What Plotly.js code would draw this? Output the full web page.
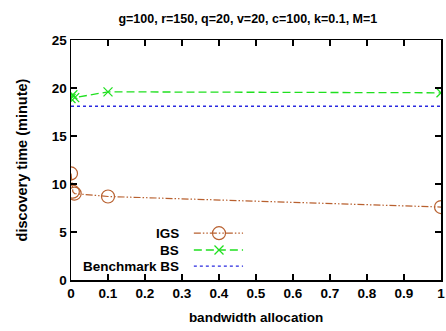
<!DOCTYPE html>
<html><head><meta charset="utf-8">
<script src="https://cdn.plot.ly/plotly-3.0.1.min.js"></script>
<style>html,body{margin:0;padding:0;background:#fff}</style>
</head><body><div id="chart" style="width:446px;height:331px"></div>
<script>
const igsX = [0, 0.005, 0.01, 0.1, 1];
const igsY = [11.1, 9.2, 9.0, 8.7, 7.6];
const bsX = [0, 0.005, 0.01, 0.1, 1];
const bsY = [18.9, 19.3, 19.0, 19.6, 19.5];
const benchX = [0, 1];
const benchY = [18.1, 18.1];
const xTicks = [0, 0.1, 0.2, 0.3, 0.4, 0.5, 0.6, 0.7, 0.8, 0.9, 1];
const xTickLabels = ["0", "0.1", "0.2", "0.3", "0.4", "0.5", "0.6", "0.7", "0.8", "0.9", "1"];
const yTicks = [0, 5, 10, 15, 20, 25];
const seriesNames = ["IGS", "BS", "Benchmark BS"];

const cIGS = "#b8602f", cBS = "#1fe01f", cBench = "#2a2ae0";
const F = "Liberation Sans, Arial, sans-serif";
const bold = (s) => ({family: F, size: s, color: "#000", weight: "bold"});

const traces = [
  {x: benchX, y: benchY, mode: "lines", name: seriesNames[2], line: {color: cBench, width: 1.3, dash: "3px,3px"}, showlegend: false},
  {x: igsX, y: igsY, mode: "lines+markers", name: seriesNames[0], line: {color: cIGS, width: 1.2, dash: "7px,2px,1.5px,2px,1.5px,2px"},
   marker: {symbol: "circle-open", size: 13, color: cIGS, line: {width: 1.2}}, showlegend: false},
  {x: bsX, y: bsY, mode: "lines+markers", name: seriesNames[1], line: {color: cBS, width: 1.3, dash: "8px,4px"},
   marker: {symbol: "x-thin-open", size: 9, color: cBS, line: {width: 1.3, color: cBS}}, showlegend: false}
];

// gnuplot-style key: text right-aligned, sample to its right
const keyTextX = 0.297, lx0 = 0.332, lx1 = 0.465, mx = 0.4;
const rows = [0.195, 0.125, 0.058];
const annotations = seriesNames.map((n, i) => ({
  xref: "paper", yref: "paper", x: keyTextX, y: rows[i], text: n, showarrow: false,
  xanchor: "right", yanchor: "middle", font: bold(13.5)
}));
const shapes = [
  {type: "line", xref: "paper", yref: "paper", x0: lx0, x1: lx1, y0: rows[0], y1: rows[0], line: {color: cIGS, width: 1.2, dash: "7px,2px,1.5px,2px,1.5px,2px"}},
  {type: "line", xref: "paper", yref: "paper", x0: lx0, x1: lx1, y0: rows[1], y1: rows[1], line: {color: cBS, width: 1.3, dash: "8px,4px"}},
  {type: "line", xref: "paper", yref: "paper", x0: lx0, x1: lx1, y0: rows[2], y1: rows[2], line: {color: cBench, width: 1.3, dash: "3px,3px"}}
];

const layout = {
  width: 446, height: 331,
  margin: {l: 71, r: 5, t: 40, b: 51},
  paper_bgcolor: "#fff", plot_bgcolor: "#fff",
  showlegend: false,
  title: {text: "g=100, r=150, q=20, v=20, c=100, k=0.1, M=1", font: bold(12.5),
          x: 0.478, xref: "paper", xanchor: "center", y: 0.945, yanchor: "middle"},
  xaxis: {range: [0, 1], tickvals: xTicks, ticktext: xTickLabels,
          ticks: "inside", ticklen: 6, tickcolor: "#000", tickwidth: 1.2,
          showline: true, linecolor: "#000", linewidth: 1.5, mirror: "allticks", showgrid: false, zeroline: false,
          tickfont: bold(13.5),
          title: {text: "bandwidth allocation", font: bold(13.5), standoff: 13}},
  yaxis: {range: [0, 25], tickvals: yTicks, ticktext: yTicks.map(String),
          ticks: "inside", ticklen: 6, tickcolor: "#000", tickwidth: 1.2,
          showline: true, linecolor: "#000", linewidth: 1.5, mirror: "allticks", showgrid: false, zeroline: false,
          tickfont: bold(13.5),
          title: {text: "discovery time (minute)", font: bold(14.5), standoff: 20}},
  annotations: annotations,
  shapes: shapes
};

Plotly.newPlot("chart", traces, layout, {staticPlot: true, displayModeBar: false}).then(() => {
  const mk = [
    {x: [mx], y: [rows[0]], mode: "markers", xaxis: "x2", yaxis: "y2", marker: {symbol: "circle-open", size: 13, color: cIGS, line: {width: 1.2}}, showlegend: false, hoverinfo: "skip"},
    {x: [mx], y: [rows[1]], mode: "markers", xaxis: "x2", yaxis: "y2", marker: {symbol: "x-thin-open", size: 9, color: cBS, line: {width: 1.3, color: cBS}}, showlegend: false, hoverinfo: "skip"}
  ];
  Plotly.addTraces("chart", mk);
  Plotly.relayout("chart", {
    xaxis2: {range: [0, 1], overlaying: "x", visible: false, fixedrange: true},
    yaxis2: {range: [0, 1], overlaying: "y", visible: false, fixedrange: true}
  });
});
</script></body></html>
